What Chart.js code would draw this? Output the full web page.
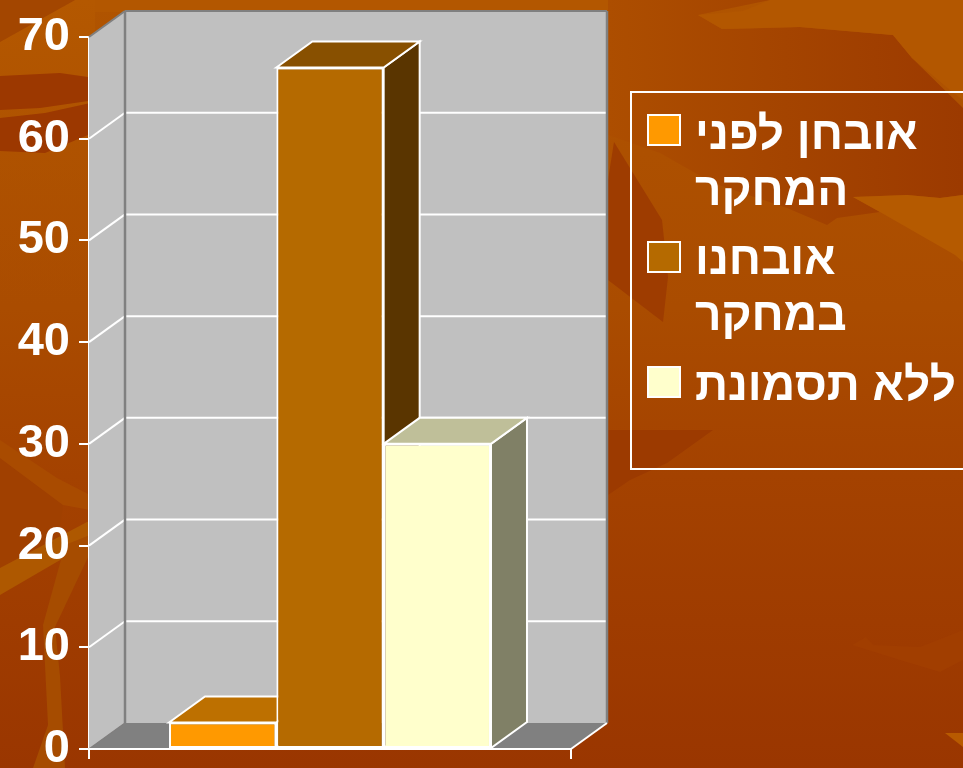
<!DOCTYPE html>
<html lang="he">
<head>
<meta charset="utf-8">
<title>Chart</title>
<style>
html,body{margin:0;padding:0;width:963px;height:768px;overflow:hidden;background:#A34200}
#bg{position:absolute;left:0;top:0;width:963px;height:768px}
#c{position:absolute;left:0;top:0}
</style>
<script src="https://cdn.jsdelivr.net/npm/chart.js@4"></script>
</head>
<body>
<svg id="bg" viewBox="0 0 963 768" aria-hidden="true">
<defs>
<linearGradient id="base" x1="0" y1="0" x2="0" y2="1">
<stop offset="0" stop-color="#B05400"/><stop offset=".4" stop-color="#AA4C00"/><stop offset=".62" stop-color="#A44200"/><stop offset="1" stop-color="#9A3600"/>
</linearGradient>
<linearGradient id="dk" x1="0" y1="0" x2="1" y2="0">
<stop offset="0" stop-color="#AD4E00"/><stop offset=".5" stop-color="#A44400"/><stop offset="1" stop-color="#9C3A00"/>
</linearGradient>
<linearGradient id="tl" x1="0" y1="0" x2="0" y2="1">
<stop offset="0" stop-color="#B45800"/><stop offset="1" stop-color="#AD5000" stop-opacity="0"/>
</linearGradient>
</defs>
<rect width="963" height="768" fill="url(#base)"/>
<polygon points="608,135 660,153 713,183 787,208 827,225 837,218 880,212 853,197 907,195 940,198 963,195 963,108 912,58 893,35 800,27 722,29 698,15 770,0 608,0" fill="url(#dk)"/>
<polygon points="698,15 743,11 770,0 963,0 963,100 950,90 912,58 893,35 800,27 722,29" fill="#B35700"/>
<polygon points="90,0 608,0 608,12 90,12" fill="#B35700"/>
<polygon points="853,197 907,195 940,198 963,195 963,262 955,255 880,212" fill="#B55A00"/>
<polygon points="614,142 662,220 668,277 663,322 608,280 608,180" fill="#9E3C00"/>
<polygon points="608,430 713,430 667,463 630,480 608,495" fill="#9C3A00"/>
<polygon points="852,645 866,637 873,645 920,647 963,630 963,660 940,672 900,660" fill="#A13E00"/>
<polygon points="945,733 963,733 963,747" fill="#B85A00"/>
<polygon points="0,42 75,0 95,0 95,300 0,300" fill="url(#tl)"/>
<polygon points="0,0 75,0 0,42" fill="#A34600"/>
<polygon points="0,76 60,73 95,78 95,100 40,108 0,110" fill="#9C3800"/>
<polygon points="0,118 45,113 95,102 95,132 45,153 0,151" fill="#9C3800"/>
<polygon points="0,458 63,505 58,539 0,570" fill="#A04000"/>
<polygon points="0,440 57,478 90,495 90,510 63,505 0,458" fill="#A94B00"/>
<polygon points="0,568 87,522 95,520 95,540 55,563 0,595" fill="#AE5800"/>
<polygon points="65,545 43,625 48,725 33,768 65,768 60,676 55,627 90,553 90,535" fill="#A64C00"/>
</svg>
<canvas id="c" width="963" height="768"></canvas>
<script>
const categories = [''];
const seriesLabels = [['אובחן לפני', 'המחקר'], ['אובחנו', 'במחקר'], ['ללא תסמונת']];
const beforeStudy = [2.6];
const duringStudy = [67];
const noSyndrome = [30];
const tickStep = 10;
const axisMax = 70;

const fronts = ['#FF9900', '#B56A00', '#FFFFCC'];
const tops = ['#BD7000', '#885000', '#BFBF99'];
const sides = ['#804D00', '#5A3500', '#808066'];
const DX = 36, DY = 26;
const FONT = '"Liberation Sans", Arial, sans-serif';

function poly(ctx, pts, fill, stroke, lw) {
  ctx.beginPath();
  pts.forEach((p, i) => i ? ctx.lineTo(p[0], p[1]) : ctx.moveTo(p[0], p[1]));
  ctx.closePath();
  if (fill) { ctx.fillStyle = fill; ctx.fill(); }
  if (stroke) { ctx.strokeStyle = stroke; ctx.lineWidth = lw || 2; ctx.lineJoin = 'miter'; ctx.stroke(); }
}
function seg(ctx, a, b, color, lw) {
  ctx.beginPath(); ctx.moveTo(a[0], a[1]); ctx.lineTo(b[0], b[1]);
  ctx.strokeStyle = color; ctx.lineWidth = lw; ctx.stroke();
}

const walls3d = {
  id: 'walls3d',
  beforeDatasetsDraw(chart) {
    const ctx = chart.ctx, a = chart.chartArea, y = chart.scales.y;
    const l = a.left, r = a.right, t = a.top, b = a.bottom;
    ctx.save();
    poly(ctx, [[l + DX, t - DY], [r + DX, t - DY], [r + DX, b - DY], [l + DX, b - DY]], '#C0C0C0');
    poly(ctx, [[l, t], [l + DX, t - DY], [l + DX, b - DY], [l, b]], '#C0C0C0');
    poly(ctx, [[l, b], [l + DX, b - DY], [r + DX, b - DY], [r, b]], '#808080');
    y.ticks.forEach(tk => {
      const py = y.getPixelForValue(tk.value);
      if (tk.value > 0 && tk.value < axisMax) {
        seg(ctx, [l, py], [l + DX, py - DY], '#FFFFFF', 2);
        seg(ctx, [l + DX, py - DY], [r + DX, py - DY], '#FFFFFF', 2);
      }
    });
    seg(ctx, [l, t], [l + DX, t - DY], '#808080', 2);
    seg(ctx, [l + DX, t - DY], [r + DX, t - DY], '#808080', 2);
    seg(ctx, [l + DX, t - DY], [l + DX, b - DY], '#808080', 2.5);
    seg(ctx, [r + DX, t - DY], [r + DX, b - DY], '#808080', 2.5);
    seg(ctx, [l, b], [l + DX, b - DY], '#808080', 1.5);
    seg(ctx, [r, b], [r + DX, b - DY], '#FFFFFF', 2);
    seg(ctx, [l, b], [r, b], '#FFFFFF', 2);
    // side and top faces, left to right; the library paints the fronts over them
    chart.data.datasets.forEach((ds, i) => {
      chart.getDatasetMeta(i).data.forEach(bar => {
        const p = bar.getProps(['x', 'y', 'base', 'width'], true);
        const x0 = p.x - p.width / 2, x1 = p.x + p.width / 2, top = p.y, base = p.base;
        poly(ctx, [[x1, top], [x1 + DX, top - DY], [x1 + DX, base - DY], [x1, base]], sides[i], '#FFFFFF', 2);
        poly(ctx, [[x0, top], [x0 + DX, top - DY], [x1 + DX, top - DY], [x1, top]], tops[i], '#FFFFFF', 2);
      });
    });
    ctx.restore();
  },
  afterDraw(chart) {
    const ctx = chart.ctx;
    ctx.save();
    ctx.strokeStyle = '#FFFFFF'; ctx.lineWidth = 2;
    ctx.strokeRect(631, 92, 340, 377);
    const swatchY = [115, 242, 367];
    const baselines = [[149, 205], [274, 330], [400]];
    ctx.font = 'bold 46px ' + FONT;
    seriesLabels.forEach((lines, i) => {
      ctx.fillStyle = fronts[i];
      ctx.fillRect(648, swatchY[i], 32, 30);
      ctx.strokeStyle = '#FFFFFF'; ctx.lineWidth = 2;
      ctx.strokeRect(648, swatchY[i], 32, 30);
      ctx.fillStyle = '#FFFFFF';
      ctx.direction = 'rtl';
      ctx.textAlign = 'left';
      ctx.textBaseline = 'alphabetic';
      lines.forEach((s, k) => ctx.fillText(s, 695, baselines[i][k]));
    });
    ctx.restore();
  }
};

const series = [beforeStudy, duringStudy, noSyndrome];
new Chart(document.getElementById('c'), {
  type: 'bar',
  data: {
    labels: categories,
    datasets: series.map((d, i) => ({
      label: seriesLabels[i].join(' '),
      data: d,
      backgroundColor: fronts[i],
      borderColor: '#FFFFFF',
      borderWidth: 2,
      borderSkipped: false,
      barPercentage: 1,
      categoryPercentage: 0.668
    }))
  },
  options: {
    responsive: false,
    animation: false,
    devicePixelRatio: 1,
    layout: { autoPadding: false, padding: { left: 0, right: 392, top: 37, bottom: 0 } },
    plugins: { legend: { display: false }, title: { display: false }, tooltip: { enabled: false } },
    scales: {
      x: {
        afterFit(s) { s.height = 19; },
        border: { display: false },
        grid: { drawOnChartArea: false, drawTicks: true, tickLength: 10, color: '#FFFFFF', lineWidth: 2 },
        ticks: { display: false }
      },
      y: {
        min: 0, max: axisMax,
        afterFit(s) { s.width = 89; s.paddingTop = 0; s.paddingBottom = 0; },
        border: { display: true, color: '#FFFFFF', width: 2 },
        grid: { drawOnChartArea: false, drawTicks: true, tickLength: 10, color: '#FFFFFF', lineWidth: 2 },
        ticks: { stepSize: tickStep, color: '#FFFFFF', padding: 9, font: { family: FONT, size: 47, weight: 'bold' } }
      }
    }
  },
  plugins: [walls3d]
});
</script>
</body>
</html>
